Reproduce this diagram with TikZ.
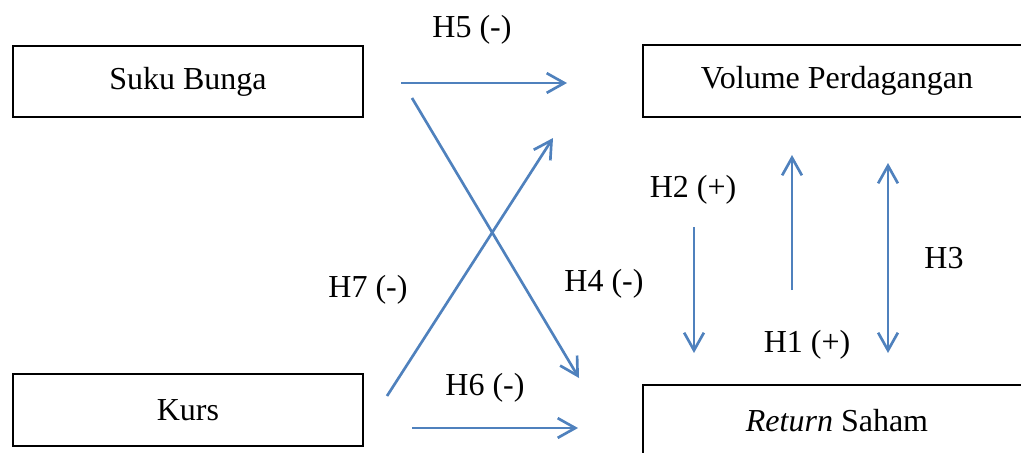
\documentclass[tikz,border=0pt]{standalone}
\usepackage{fontspec}
\setmainfont{Liberation Serif}
\usetikzlibrary{arrows.meta}

\begin{document}
\begin{tikzpicture}[
  x=0.375pt,y=-0.375pt,
  var/.style={draw,line width=0.75pt,minimum width=131.25pt,minimum height=26.7pt,
    inner sep=0pt,font=\fontsize{12}{14}\selectfont},
  hyp/.style={font=\fontsize{12}{14}\selectfont,inner sep=1pt},
  link/.style={draw={rgb,255:red,79;green,129;blue,189},line width=1pt,
    -{Straight Barb[length=6.6pt,width=7.4pt]}},
  both/.style={link,{Straight Barb[length=6.6pt,width=7.4pt]}-{Straight Barb[length=6.6pt,width=7.4pt]}}
]
  \useasboundingbox (0,0) rectangle (1021,452);
  \clip (0,0) rectangle (1021,452);

  % variables
  \node[var] (suku) at (188,81.5) {Suku Bunga};
  \node[var] (kurs) at (188,410) {Kurs};
  \node[var,minimum width=145.5pt] (volume) at (837,81) {Volume Perdagangan};
  \node[var,minimum width=145.5pt] (return) at (837,420.5) {\itshape Return\upshape{} Saham};

  % arrow ends
  \coordinate (h5-a) at (401,83);
  \coordinate (h5-b) at (567,83);
  \coordinate (h4-a) at (412,98);
  \coordinate (h4-b) at (579,378);
  \coordinate (h7-a) at (387,396);
  \coordinate (h7-b) at (553,138);
  \coordinate (h6-a) at (412,428);
  \coordinate (h6-b) at (578,428);
  \coordinate (h2-a) at (694,227);
  \coordinate (h2-b) at (694,353);
  \coordinate (h1-a) at (792,290);
  \coordinate (h1-b) at (792,155);
  \coordinate (h3-a) at (888,163);
  \coordinate (h3-b) at (888,353);

  \draw[link] (h5-a) -- (h5-b);
  \draw[link] (h4-a) -- (h4-b);
  \draw[link] (h7-a) -- (h7-b);
  \draw[link] (h6-a) -- (h6-b);
  \draw[link] (h2-a) -- (h2-b);
  \draw[link] (h1-a) -- (h1-b);
  \draw[both] (h3-a) -- (h3-b);

  % hypotheses
  \node[hyp] (h5) at (472,30) {H5 (-)};
  \node[hyp] (h4) at (604,284) {H4 (-)};
  \node[hyp] (h7) at (368,290) {H7 (-)};
  \node[hyp] (h6) at (485,388) {H6 (-)};
  \node[hyp] (h2) at (693,190) {H2 (+)};
  \node[hyp] (h1) at (807,345) {H1 (+)};
  \node[hyp] (h3) at (944,258) {H3};
\end{tikzpicture}
\end{document}
